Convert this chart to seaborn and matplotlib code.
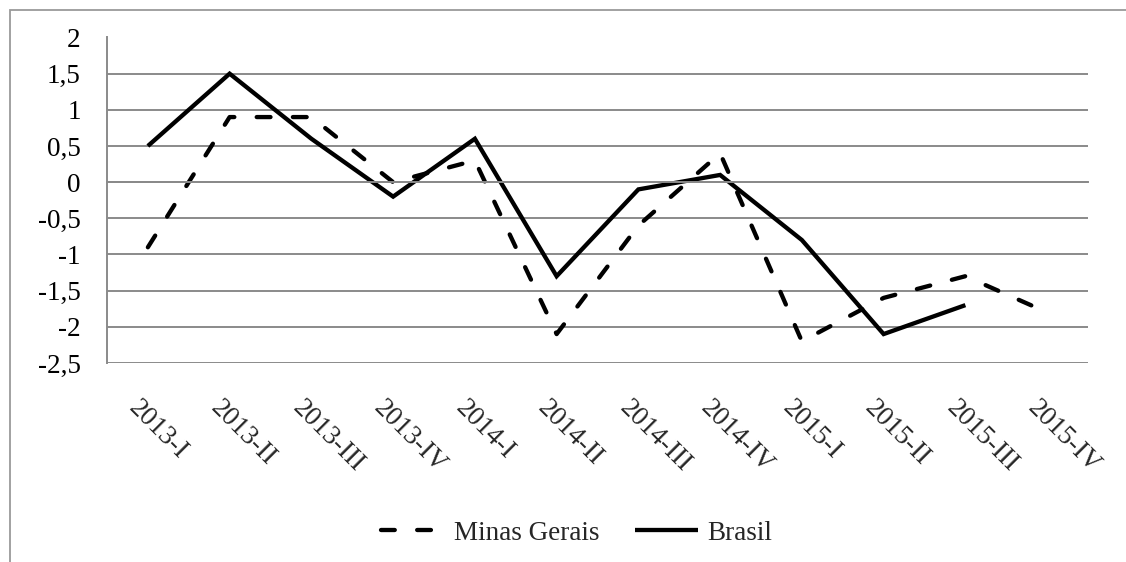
# Variação trimestral - Minas Gerais x Brasil (2013-2015)
import numpy as np
import pandas as pd
import matplotlib
matplotlib.use("Agg")
import matplotlib.pyplot as plt
import matplotlib.transforms as mtransforms
from matplotlib.patches import Rectangle
from matplotlib.ticker import FuncFormatter
import seaborn as sns

# Dados
trimestres = ["2013-I", "2013-II", "2013-III", "2013-IV",
              "2014-I", "2014-II", "2014-III", "2014-IV",
              "2015-I", "2015-II", "2015-III", "2015-IV"]
minas_gerais = [-0.9, 0.9, 0.9, 0.0, 0.3, -2.1, -0.6, 0.4, -2.2, -1.6, -1.3, -1.8]
brasil = [0.5, 1.5, 0.6, -0.2, 0.6, -1.3, -0.1, 0.1, -0.8, -2.1, -1.7, np.nan]
series = ["Minas Gerais", "Brasil"]

df = pd.DataFrame({
    "pos": list(range(len(trimestres))) * 2,
    "Trimestre": trimestres * 2,
    "Valor": minas_gerais + brasil,
    "Serie": [series[0]] * len(trimestres) + [series[1]] * len(trimestres),
})

sns.set_style("white")
plt.rcParams['font.family'] = ['Liberation Serif', 'DejaVu Serif']
plt.rcParams['axes.unicode_minus'] = False
plt.rcParams['font.size'] = 19.5

cinza = "#8a8a8a"
lw = 3.1

fig = plt.figure(figsize=(11.26, 5.62), dpi=100)
ax = fig.add_axes([107 / 1126, 1 - 363 / 562, (1088 - 107) / 1126, (363 - 37.5) / 562])

# moldura externa (estilo Excel)
fig.add_artist(Rectangle((10 / 1126, -0.2), 1.2, 1 - 10 / 562 + 0.2,
                         transform=fig.transFigure, fill=False,
                         edgecolor="#9a9a9a", linewidth=1.3, clip_on=False))

sns.lineplot(data=df, x="pos", y="Valor", hue="Serie", style="Serie",
             hue_order=series, style_order=series,
             palette={"Minas Gerais": "black", "Brasil": "black"},
             dashes={"Minas Gerais": (3.2, 5.2), "Brasil": ""},
             linewidth=lw, dash_capstyle="round", solid_capstyle="butt",
             solid_joinstyle="miter", ax=ax, legend=True)

ax.set_xlim(-0.5, len(trimestres) - 0.5)
ax.set_ylim(-2.5, 2)
ax.set_yticks(np.arange(-2.5, 2.01, 0.5))
ax.yaxis.set_major_formatter(FuncFormatter(lambda v, p: f"{v:g}".replace(".", ",")))
ax.yaxis.grid(True, color=cinza, linewidth=1.4)
ax.set_axisbelow(True)
ax.tick_params(axis="y", length=0, pad=19, labelsize=19.5, colors="black")

# eixo x cruzando no zero, com marcas entre categorias
ax.spines["bottom"].set_position(("data", 0))
ax.spines["bottom"].set_color(cinza)
ax.spines["bottom"].set_linewidth(1.4)
ax.spines["left"].set_color(cinza)
ax.spines["left"].set_linewidth(1.4)
ax.spines["top"].set_visible(False)
ax.spines["right"].set_visible(False)
ax.set_xticks(np.arange(-0.5, len(trimestres), 1))
ax.set_xticklabels([])
ax.tick_params(axis="x", direction="out", length=6.5, width=1.4, color=cinza)
ax.set_xlabel("")
ax.set_ylabel("")

# rótulos das categorias na parte inferior, inclinados
trans = mtransforms.blended_transform_factory(ax.transData, ax.transAxes)
for i, t in enumerate(trimestres):
    ax.text(i - 0.08, -0.10, t, transform=trans, rotation=-45,
            rotation_mode="anchor", ha="left", va="top", fontsize=19.5)

handles, labels = ax.get_legend_handles_labels()
ax.get_legend().remove()
for h in handles:
    h.set_linewidth(lw)
    h.set_color("black")
fig.legend(handles, labels, loc="center", bbox_to_anchor=(577 / 1126, 1 - 533 / 562),
           ncol=2, frameon=False, handlelength=2.3, handletextpad=0.37,
           columnspacing=1.33, fontsize=19.5)

fig.savefig("out.png", dpi=100)
